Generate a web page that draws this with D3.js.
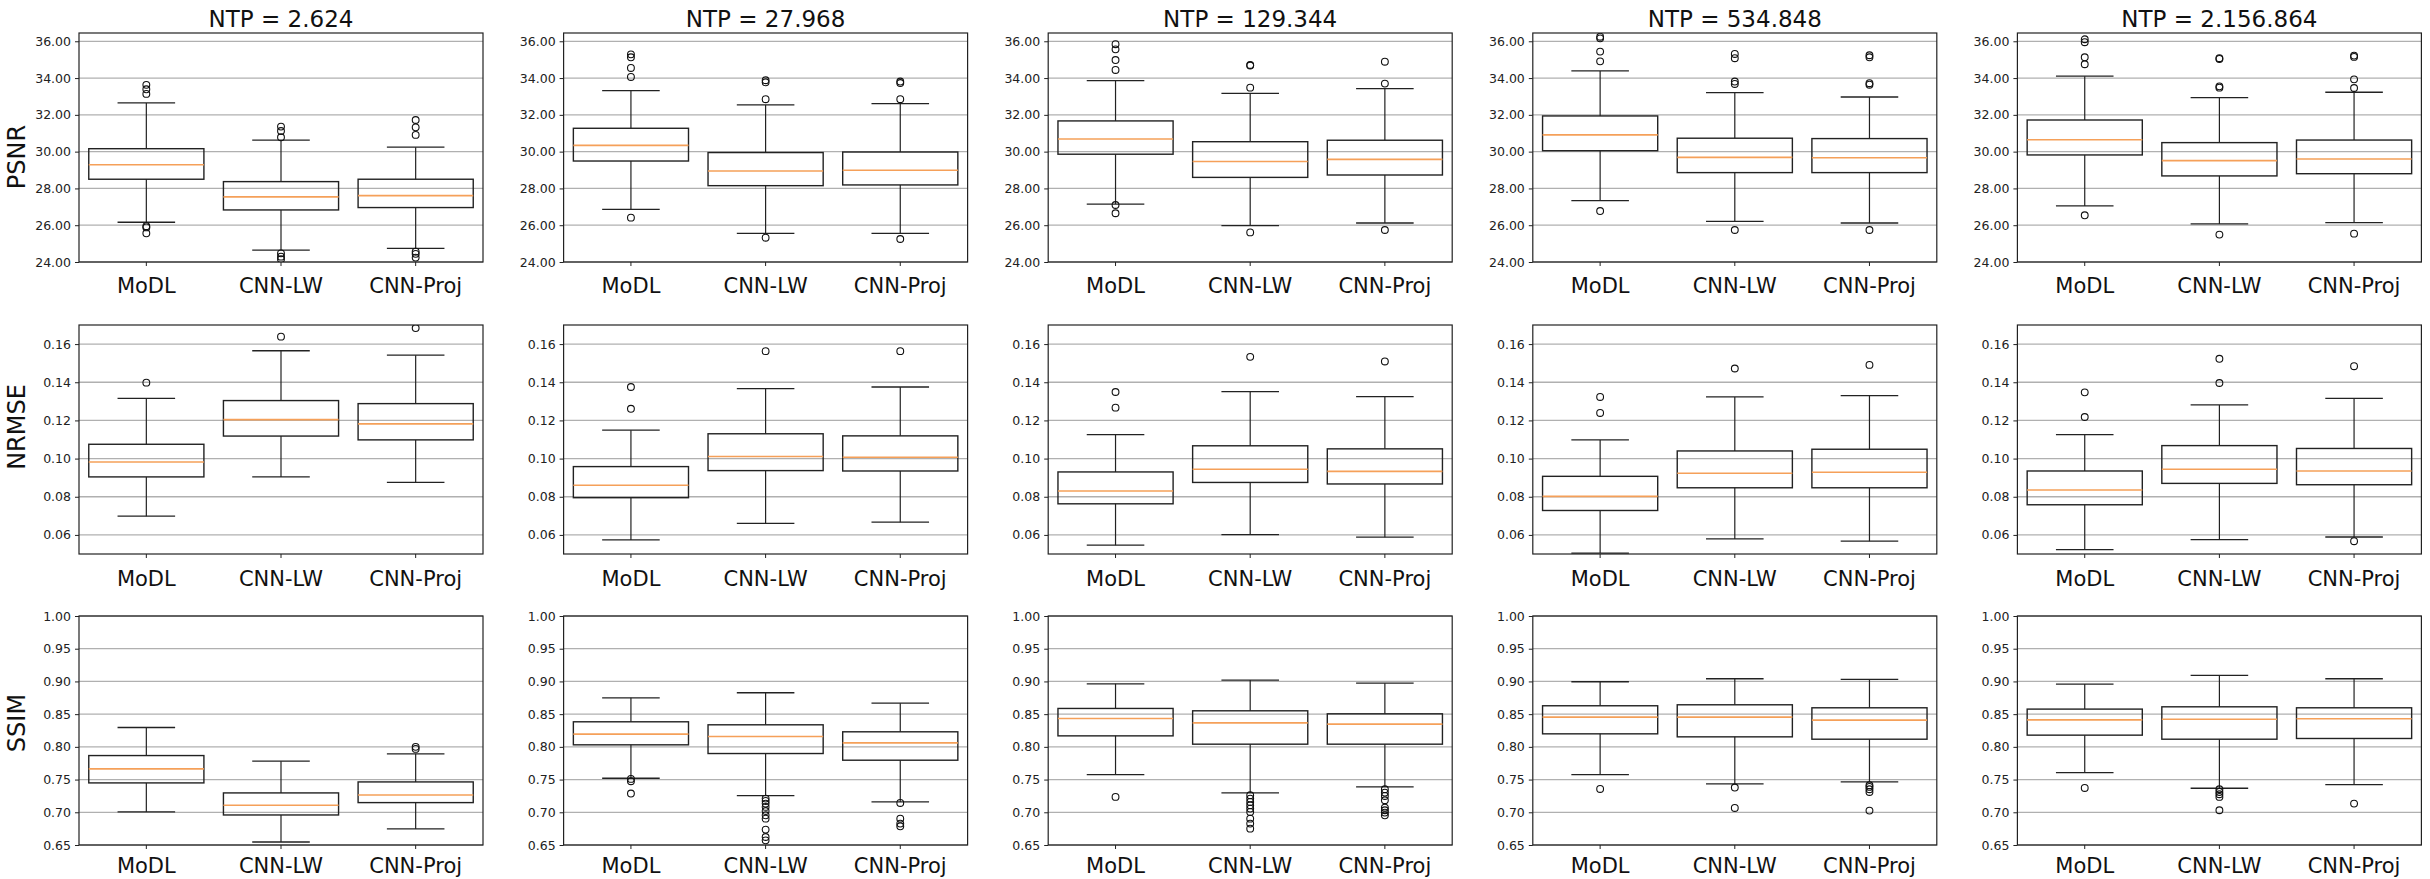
<!DOCTYPE html>
<html>
<head>
<meta charset="utf-8">
<script src="https://cdn.jsdelivr.net/npm/d3@7"></script>
<style>
body{margin:0;background:#fff;}
text{font-family:"DejaVu Sans",sans-serif;fill:#111;}
</style>
</head>
<body>
<svg id="chart"></svg>
<script>
var svgWidth=2430, svgHeight=879;

var methods=["MoDL","CNN-LW","CNN-Proj"];
var ntpTitles=["NTP = 2.624","NTP = 27.968","NTP = 129.344","NTP = 534.848","NTP = 2.156.864"];
var metricNames=["PSNR","NRMSE","SSIM"];

var psnrTicks=[24,26,28,30,32,34,36];
var nrmseTicks=[0.06,0.08,0.10,0.12,0.14,0.16];
var ssimTicks=[0.65,0.70,0.75,0.80,0.85,0.90,0.95,1.00];

// each box: [low whisker, q1, median, q3, high whisker], per NTP panel, per method
var psnrBoxes=[
  [[26.16,28.50,29.29,30.16,32.65],[24.65,26.83,27.54,28.37,30.63],[24.74,26.96,27.61,28.50,30.24]],
  [[26.86,29.49,30.34,31.27,33.32],[25.56,28.15,28.95,29.95,32.54],[25.56,28.19,28.99,29.98,32.61]],
  [[27.15,29.86,30.69,31.67,33.86],[25.98,28.60,29.46,30.54,33.17],[26.12,28.73,29.58,30.62,33.43]],
  [[27.34,30.05,30.91,31.94,34.39],[26.21,28.86,29.69,30.73,33.21],[26.12,28.86,29.67,30.71,32.97]],
  [[27.05,29.82,30.65,31.72,34.10],[26.07,28.68,29.51,30.49,32.94],[26.14,28.80,29.60,30.63,33.23]]
];
var psnrOutliers=[
  [[33.63,33.39,33.14,25.95,25.88,25.56],[31.36,31.12,30.78,24.47,24.29,24.15],[31.72,31.32,30.91,24.56,24.44,24.24]],
  [[35.29,35.13,34.55,34.06,26.41],[33.88,33.77,32.85,25.32],[33.81,33.73,32.85,25.25]],
  [[35.84,35.56,34.98,34.44,27.10,26.65],[34.71,34.68,33.48,25.61],[34.89,33.70,25.74]],
  [[36.25,36.16,35.44,34.91,26.77],[35.31,35.08,33.81,33.68,25.74],[35.24,35.13,33.72,33.64,25.74]],
  [[36.11,35.95,35.13,34.75,26.54],[35.08,35.04,33.55,33.48,25.49],[35.22,35.15,33.93,33.46,25.54]]
];

var nrmseBoxes=[
  [[0.0698,0.0904,0.0982,0.1075,0.1316],[0.0904,0.1118,0.1204,0.1304,0.1565],[0.0875,0.1098,0.1182,0.1288,0.1542]],
  [[0.0574,0.0795,0.0860,0.0958,0.1149],[0.0661,0.0937,0.1011,0.1130,0.1367],[0.0667,0.0935,0.1007,0.1119,0.1375]],
  [[0.0546,0.0763,0.0830,0.0930,0.1126],[0.0602,0.0875,0.0944,0.1067,0.1351],[0.0588,0.0867,0.0933,0.1051,0.1325]],
  [[0.0505,0.0728,0.0802,0.0907,0.1098],[0.0579,0.0847,0.0923,0.1040,0.1323],[0.0567,0.0847,0.0928,0.1049,0.1330]],
  [[0.0523,0.0758,0.0835,0.0935,0.1126],[0.0575,0.0870,0.0944,0.1068,0.1281],[0.0589,0.0863,0.0935,0.1053,0.1316]]
];
var nrmseOutliers=[
  [[0.1398],[0.1639],[0.1684]],
  [[0.1375,0.1261],[0.1563],[0.1563]],
  [[0.1349,0.1267],[0.1533],[0.1509]],
  [[0.1323,0.1239],[0.1472],[0.1491]],
  [[0.1347,0.1218],[0.1523,0.1396],[0.1484,0.0567]]
];

var ssimBoxes=[
  [[0.7005,0.7449,0.7663,0.7867,0.8296],[0.6546,0.6959,0.7107,0.7296,0.7781],[0.6745,0.7148,0.7265,0.7464,0.7893]],
  [[0.7520,0.8031,0.8194,0.8383,0.8750],[0.7255,0.7898,0.8158,0.8337,0.8827],[0.7158,0.7796,0.8061,0.8230,0.8668]],
  [[0.7577,0.8168,0.8434,0.8587,0.8964],[0.7296,0.8041,0.8367,0.8551,0.9020],[0.7388,0.8041,0.8347,0.8505,0.8974]],
  [[0.7577,0.8199,0.8454,0.8628,0.8995],[0.7434,0.8153,0.8454,0.8643,0.9041],[0.7464,0.8117,0.8408,0.8597,0.9031]],
  [[0.7607,0.8179,0.8413,0.8577,0.8959],[0.7367,0.8117,0.8423,0.8612,0.9092],[0.7423,0.8128,0.8429,0.8597,0.9041]]
];
var ssimOutliers=[
  [[],[],[0.8000,0.7969]],
  [[0.7510,0.7474,0.7286],[0.7209,0.7173,0.7133,0.7082,0.7020,0.6954,0.6903,0.6735,0.6622,0.6571],[0.7143,0.6903,0.6827,0.6786]],
  [[0.7235],[0.7260,0.7209,0.7158,0.7107,0.7056,0.7005,0.6903,0.6827,0.6750],[0.7352,0.7301,0.7250,0.7184,0.7071,0.7031,0.6995,0.6954]],
  [[0.7357],[0.7378,0.7066],[0.7413,0.7388,0.7352,0.7311,0.7026]],
  [[0.7372],[0.7352,0.7311,0.7276,0.7235,0.7031],[0.7133]]
];

var rows=[
  {domain:[24,36.45],ticks:psnrTicks,boxes:psnrBoxes,outliers:psnrOutliers,top:33,labelY:157,xlabGap:31},
  {domain:[0.05,0.17],ticks:nrmseTicks,boxes:nrmseBoxes,outliers:nrmseOutliers,top:325,labelY:427,xlabGap:32},
  {domain:[0.65,1.00],ticks:ssimTicks,boxes:ssimBoxes,outliers:ssimOutliers,top:616,labelY:723,xlabGap:28}
];

var panelW=404, panelH=229, colStep=484.6, firstLeft=79;

var svg=d3.select("#chart")
   .attr("width",svgWidth)
   .attr("height",svgHeight);

var x=d3.scaleBand().domain(methods).range([0,panelW]).padding(0);
var boxW=x.bandwidth()*0.855;

rows.forEach(function(row,r){
  var y=d3.scaleLinear().domain(row.domain).range([panelH,0]);

  svg.append("text")
     .attr("transform","translate(25,"+row.labelY+") rotate(-90)")
     .attr("text-anchor","middle")
     .attr("font-size",24)
     .text(metricNames[r]);

  ntpTitles.forEach(function(title,c){
    var g=svg.append("g")
       .attr("transform","translate("+(firstLeft+c*colStep)+","+row.top+")");

    var clipId="clip-"+r+"-"+c;
    g.append("clipPath").attr("id",clipId)
       .append("rect").attr("width",panelW).attr("height",panelH);

    // grid
    g.selectAll(".grid").data(row.ticks).enter().append("line")
       .attr("x1",0).attr("x2",panelW)
       .attr("y1",function(d){return y(d);})
       .attr("y2",function(d){return y(d);})
       .attr("stroke","#b0b0b0").attr("stroke-width",1.3);

    var yAxis=g.append("g").call(d3.axisLeft(y).tickValues(row.ticks)
       .tickFormat(d3.format(".2f")).tickSize(4).tickPadding(4));
    yAxis.select(".domain").remove();
    yAxis.selectAll("text").attr("font-size",12.5).style("fill","#222");
    yAxis.selectAll("line").attr("stroke","#222");

    var xAxis=g.append("g").attr("transform","translate(0,"+panelH+")")
       .call(d3.axisBottom(x).tickSize(4).tickFormat(""));
    xAxis.select(".domain").remove();
    xAxis.selectAll("line").attr("stroke","#222");

    g.selectAll(".xlab").data(methods).enter().append("text")
       .attr("x",function(d){return x(d)+x.bandwidth()/2;})
       .attr("y",panelH+row.xlabGap)
       .attr("text-anchor","middle")
       .attr("font-size",21)
       .text(function(d){return d;});

    var plot=g.append("g").attr("clip-path","url(#"+clipId+")");
    var boxes=plot.selectAll(".box").data(row.boxes[c]).enter().append("g")
       .attr("transform",function(d,i){return "translate("+(x(methods[i])+x.bandwidth()/2)+",0)";});

    boxes.append("line").attr("x1",0).attr("x2",0)
       .attr("y1",function(d){return y(d[0]);}).attr("y2",function(d){return y(d[1]);})
       .attr("stroke","#222").attr("stroke-width",1.2);
    boxes.append("line").attr("x1",0).attr("x2",0)
       .attr("y1",function(d){return y(d[3]);}).attr("y2",function(d){return y(d[4]);})
       .attr("stroke","#222").attr("stroke-width",1.2);
    boxes.append("line").attr("x1",-boxW/4).attr("x2",boxW/4)
       .attr("y1",function(d){return y(d[0]);}).attr("y2",function(d){return y(d[0]);})
       .attr("stroke","#222").attr("stroke-width",1.3);
    boxes.append("line").attr("x1",-boxW/4).attr("x2",boxW/4)
       .attr("y1",function(d){return y(d[4]);}).attr("y2",function(d){return y(d[4]);})
       .attr("stroke","#222").attr("stroke-width",1.3);
    boxes.append("rect")
       .attr("x",-boxW/2).attr("width",boxW)
       .attr("y",function(d){return y(d[3]);})
       .attr("height",function(d){return y(d[1])-y(d[3]);})
       .attr("fill","none").attr("stroke","#222").attr("stroke-width",1.4);
    boxes.append("line").attr("x1",-boxW/2).attr("x2",boxW/2)
       .attr("y1",function(d){return y(d[2]);}).attr("y2",function(d){return y(d[2]);})
       .attr("stroke","#f5a059").attr("stroke-width",1.6);

    row.outliers[c].forEach(function(vals,i){
      plot.selectAll(".out"+i).data(vals).enter().append("circle")
         .attr("cx",x(methods[i])+x.bandwidth()/2)
         .attr("cy",function(d){return y(d);})
         .attr("r",3.4)
         .attr("fill","none").attr("stroke","#111").attr("stroke-width",1.1);
    });

    g.append("rect").attr("width",panelW).attr("height",panelH)
       .attr("fill","none").attr("stroke","#222").attr("stroke-width",1.2);

    if(r===0){
      g.append("text").attr("x",panelW/2).attr("y",-6)
         .attr("text-anchor","middle").attr("font-size",23)
         .text(title);
    }
  });
});
</script>
</body>
</html>
